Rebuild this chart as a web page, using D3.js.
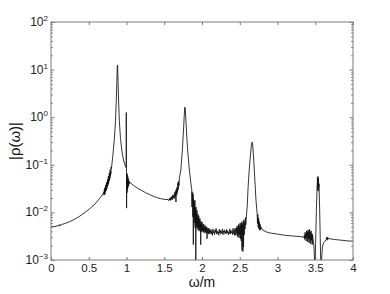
<!DOCTYPE html>
<html>
<head>
<meta charset="utf-8">
<style>
  body { margin: 0; background: #fff; }
  svg { display: block; font-family: 'Liberation Sans', Arial, sans-serif; }
  .axis .domain { display: none; }
  .axis .tick line { stroke: #777; }
  .axis .tick text { font-size: 11.5px; fill: #222; }
  .ylab { font-size: 12px; fill: #222; }
  .title { font-size: 14px; fill: #111; }
</style>
</head>
<body>
<svg width="390" height="294"></svg>
<script src="https://cdn.jsdelivr.net/npm/d3@7"></script>
<script>
// tick values
const omegaTicks = [0, 0.5, 1, 1.5, 2, 2.5, 3, 3.5, 4];
const omegaTickLabels = ["0", "0.5", "1", "1.5", "2", "2.5", "3", "3.5", "4"];
const rhoTicks = [1e-3, 1e-2, 1e-1, 1, 10, 100];
const rhoExponents = ["\u22123", "\u22122", "\u22121", "0", "1", "2"];

// |rho(omega)|, [omega/m, value], split by region
const riseLow = [[0.000,0.00493],[0.053,0.00506],[0.095,0.00525],[0.105,0.00548],[0.112,0.00515],[0.120,0.00558],[0.128,0.00530],[0.140,0.00555],[0.185,0.00585],[0.252,0.00644],[0.318,0.00727],[0.384,0.0084],[0.450,0.00995],[0.517,0.0121],[0.583,0.0150],[0.649,0.0201],[0.689,0.0244]];
const shoulder1 = [[0.700,0.027],[0.703,0.023],[0.706,0.030],[0.709,0.025],[0.712,0.033],[0.715,0.024],[0.718,0.031],[0.721,0.027],[0.724,0.038],[0.727,0.028],[0.730,0.035],[0.733,0.030],[0.736,0.043],[0.739,0.031],[0.742,0.040],[0.745,0.034],[0.748,0.050],[0.751,0.036],[0.754,0.047],[0.757,0.039],[0.760,0.058],[0.763,0.041],[0.766,0.054],[0.769,0.045],[0.772,0.068],[0.775,0.048],[0.778,0.062],[0.781,0.052],[0.784,0.080],[0.787,0.058],[0.790,0.075],[0.793,0.064],[0.796,0.090],[0.800,0.082]];
const peak1 = [[0.820,0.16],[0.840,0.36],[0.855,0.87],[0.865,2.3],[0.872,5.5],[0.878,11.9],[0.882,12.5],[0.888,6.0],[0.895,2.3],[0.905,0.87],[0.920,0.36],[0.940,0.19],[0.960,0.126],[0.980,0.099],[0.992,0.088]];
const spike1 = [[0.995,0.092],[0.997,1.25],[0.999,0.28],[1.001,0.0123],[1.004,0.052],[1.007,0.026],[1.010,0.065],[1.013,0.030],[1.016,0.058],[1.019,0.033],[1.022,0.052],[1.026,0.036],[1.030,0.047],[1.035,0.039],[1.040,0.044]];
const plateau1 = [[1.06,0.041],[1.10,0.036],[1.15,0.032],[1.20,0.029],[1.25,0.026],[1.30,0.024],[1.35,0.022],[1.40,0.0205],[1.45,0.0195],[1.50,0.0188],[1.55,0.0186]];
const shoulder2 = [[1.560,0.0176],[1.566,0.0194],[1.572,0.0182],[1.578,0.0200],[1.584,0.0179],[1.590,0.0210],[1.596,0.0188],[1.602,0.0218],[1.608,0.0185],[1.614,0.0235],[1.620,0.0200],[1.626,0.0228],[1.632,0.0194],[1.638,0.0262],[1.644,0.0210],[1.650,0.0285],[1.655,0.0165],[1.660,0.031],[1.665,0.023],[1.670,0.034],[1.675,0.026],[1.680,0.042],[1.685,0.030],[1.690,0.045],[1.695,0.036],[1.700,0.053]];
const peak2 = [[1.720,0.078],[1.740,0.205],[1.755,0.54],[1.765,1.1],[1.772,1.63],[1.778,1.55],[1.785,0.96],[1.795,0.49],[1.810,0.205],[1.830,0.086],[1.850,0.044],[1.862,0.032]];
const noise2 = [[1.864,0.031],[1.867,0.013],[1.870,0.027],[1.873,0.016],[1.876,0.022],[1.879,0.008],[1.882,0.025],[1.885,0.0021],[1.888,0.019],[1.891,0.010],[1.894,0.017],[1.897,0.006],[1.900,0.015],[1.903,0.0085],[1.906,0.018],[1.909,0.0048],[1.912,0.012],[1.915,0.0065],[1.918,0.0006],[1.921,0.013],[1.924,0.0058],[1.927,0.0095],[1.930,0.0050],[1.933,0.0110],[1.936,0.0046],[1.939,0.0080],[1.942,0.0055],[1.945,0.0092],[1.948,0.0043],[1.951,0.0072],[1.954,0.0050],[1.957,0.0085],[1.960,0.0041],[1.964,0.0068],[1.968,0.0046],[1.972,0.0075],[1.976,0.0040],[1.980,0.0060],[1.983,0.0021],[1.986,0.0066],[1.990,0.0042],[1.994,0.0058],[1.998,0.0039],[2.003,0.0062],[2.008,0.0041],[2.013,0.0054],[2.018,0.0038],[2.023,0.0057],[2.028,0.0040],[2.033,0.0050],[2.038,0.0037],[2.043,0.0053],[2.048,0.0039],[2.053,0.0047],[2.058,0.0036],[2.063,0.0050],[2.067,0.0028],[2.071,0.0046],[2.076,0.0037],[2.081,0.0044],[2.086,0.0035],[2.091,0.0047],[2.096,0.0036],[2.101,0.0043],[2.106,0.0037]];
const floor2 = [[2.110,0.0036],[2.117,0.0044],[2.124,0.0035],[2.131,0.0041],[2.138,0.0033],[2.145,0.0045],[2.152,0.0037],[2.159,0.0040],[2.166,0.0034],[2.173,0.0043],[2.180,0.0038],[2.187,0.0046],[2.194,0.0035],[2.201,0.0041],[2.208,0.0036],[2.215,0.0039],[2.222,0.0033],[2.229,0.0044],[2.236,0.0037],[2.243,0.0042],[2.250,0.0035],[2.257,0.0040],[2.264,0.0037],[2.271,0.0045],[2.278,0.0034],[2.285,0.0041],[2.292,0.0038],[2.299,0.0043],[2.306,0.0035],[2.313,0.0040],[2.320,0.0036],[2.327,0.0044],[2.334,0.0037],[2.341,0.0041],[2.348,0.0034],[2.355,0.0039],[2.362,0.0036],[2.369,0.0045],[2.376,0.0035],[2.383,0.0042],[2.390,0.0037],[2.397,0.0040],[2.404,0.0034],[2.411,0.0046],[2.418,0.0036],[2.425,0.0043],[2.432,0.0033],[2.439,0.0047],[2.445,0.0034]];
const shoulder3 = [[2.450,0.0033],[2.455,0.0047],[2.460,0.0036],[2.465,0.0052],[2.470,0.0031],[2.475,0.0049],[2.480,0.0034],[2.485,0.0056],[2.490,0.0029],[2.495,0.0052],[2.500,0.0033],[2.505,0.0060],[2.510,0.0028],[2.515,0.0055],[2.520,0.0025],[2.525,0.0063],[2.530,0.0016],[2.534,0.0058],[2.538,0.0030],[2.542,0.0015],[2.546,0.0066],[2.550,0.0019],[2.555,0.0070],[2.560,0.0034],[2.565,0.0062],[2.570,0.0045],[2.575,0.0078],[2.580,0.0055],[2.585,0.0072]];
const peak3 = [[2.600,0.0143],[2.610,0.0326],[2.625,0.078],[2.640,0.15],[2.655,0.26],[2.665,0.30],[2.672,0.26],[2.685,0.126],[2.700,0.048],[2.715,0.018],[2.730,0.0097]];
const noise3 = [[2.735,0.0058],[2.740,0.0090],[2.745,0.0049],[2.750,0.0076],[2.755,0.0045],[2.760,0.0064],[2.765,0.0042],[2.770,0.0056],[2.775,0.0043],[2.780,0.0050]];
const tail3 = [[2.80,0.0043],[2.85,0.0039],[2.90,0.0037],[3.00,0.0035],[3.10,0.0033],[3.20,0.0032],[3.30,0.0031],[3.35,0.0030]];
const noise4 = [[3.355,0.0033],[3.360,0.0027],[3.365,0.0038],[3.370,0.0029],[3.375,0.0036],[3.380,0.0025],[3.385,0.0041],[3.390,0.0030],[3.395,0.0039],[3.400,0.0024],[3.405,0.0043],[3.410,0.0028],[3.415,0.0040],[3.420,0.0023],[3.425,0.0044],[3.430,0.0027],[3.435,0.0038],[3.440,0.0022],[3.445,0.0041],[3.450,0.0026],[3.455,0.0036],[3.460,0.0021],[3.465,0.0034],[3.472,0.0027]];
const peak4 = [[3.482,0.0020],[3.492,0.0009],[3.497,0.0005],[3.505,0.0025],[3.515,0.011],[3.524,0.032],[3.530,0.055],[3.533,0.030],[3.536,0.057],[3.539,0.028],[3.542,0.052],[3.546,0.033],[3.550,0.040],[3.558,0.012],[3.566,0.0030],[3.576,0.0005]];
const tail4 = [[3.585,0.0011],[3.595,0.0019],[3.61,0.0023],[3.63,0.0025],[3.645,0.0027],[3.652,0.0030],[3.657,0.0026],[3.662,0.0030],[3.668,0.0027],[3.675,0.0029],[3.69,0.0028],[3.75,0.0027],[3.85,0.0026],[3.95,0.0025],[4.00,0.0025]];

const spectrum = [].concat(riseLow, shoulder1, peak1, spike1, plateau1, shoulder2, peak2,
    noise2, floor2, shoulder3, peak3, noise3, tail3, noise4, peak4, tail4);

const svg = d3.select("svg");
const plotLeft = 51, plotRight = 353, plotTop = 22, plotBottom = 260;

const x = d3.scaleLinear().domain([0, 4]).range([plotLeft, plotRight]);
const y = d3.scaleLog().domain([1e-3, 1e2]).range([plotBottom, plotTop]);

// minor log ticks 2..9 in each decade
let minorTicks = [];
rhoTicks.slice(0, -1).forEach(function (p) {
    for (let k = 2; k <= 9; k++) minorTicks.push(p * k);
});

svg.append("clipPath").attr("id", "plot")
    .append("rect")
    .attr("x", plotLeft).attr("y", plotTop)
    .attr("width", plotRight - plotLeft).attr("height", plotBottom - plotTop);

let line = d3.line()
    .x(d => x(d[0]))
    .y(d => y(Math.max(d[1], 1e-4)));

svg.append("path")
    .datum(spectrum)
    .attr("clip-path", "url(#plot)")
    .attr("d", line)
    .style("fill", "none")
    .style("stroke", "#111")
    .style("stroke-width", 0.85)
    .style("stroke-linejoin", "round");

// axes, ticks pointing inward
svg.append("g").attr("class", "axis")
    .attr("transform", `translate(0,${plotBottom})`)
    .call(d3.axisBottom(x).tickValues(omegaTicks)
        .tickFormat((d, i) => omegaTickLabels[i])
        .tickSizeInner(-3).tickSizeOuter(0).tickPadding(4));

svg.append("g").attr("class", "axis")
    .attr("transform", `translate(0,${plotTop})`)
    .call(d3.axisTop(x).tickValues(omegaTicks).tickFormat("")
        .tickSizeInner(-3).tickSizeOuter(0));

[[plotLeft, d3.axisLeft], [plotRight, d3.axisRight]].forEach(function (a) {
    svg.append("g").attr("class", "axis")
        .attr("transform", `translate(${a[0]},0)`)
        .call(a[1](y).tickValues(rhoTicks).tickFormat("")
            .tickSizeInner(-3.5).tickSizeOuter(0));
    svg.append("g").attr("class", "axis")
        .attr("transform", `translate(${a[0]},0)`)
        .call(a[1](y).tickValues(minorTicks).tickFormat("")
            .tickSizeInner(-1.8).tickSizeOuter(0));
});

svg.append("rect")
    .attr("x", plotLeft).attr("y", plotTop)
    .attr("width", plotRight - plotLeft).attr("height", plotBottom - plotTop)
    .style("fill", "none")
    .style("stroke", "#7a7a7a")
    .style("stroke-width", 1);

// y tick labels 10^n
let ylabs = svg.append("g").selectAll("text")
    .data(rhoTicks)
    .join("text")
    .attr("class", "ylab")
    .attr("text-anchor", "end")
    .attr("x", 48)
    .attr("y", d => y(d) + 4);
ylabs.append("tspan").text("10");
ylabs.append("tspan")
    .attr("dy", -5)
    .style("font-size", "8px")
    .text((d, i) => rhoExponents[i]);

svg.append("text")
    .attr("class", "title")
    .attr("text-anchor", "middle")
    .attr("x", (plotLeft + plotRight) / 2)
    .attr("y", 287)
    .text("\u03c9/m");

svg.append("text")
    .attr("class", "title")
    .attr("text-anchor", "middle")
    .style("font-size", "15px")
    .attr("transform", `translate(20,${(plotTop + plotBottom) / 2}) rotate(-90)`)
    .text("|\u03c1(\u03c9)|");
</script>
</body>
</html>
